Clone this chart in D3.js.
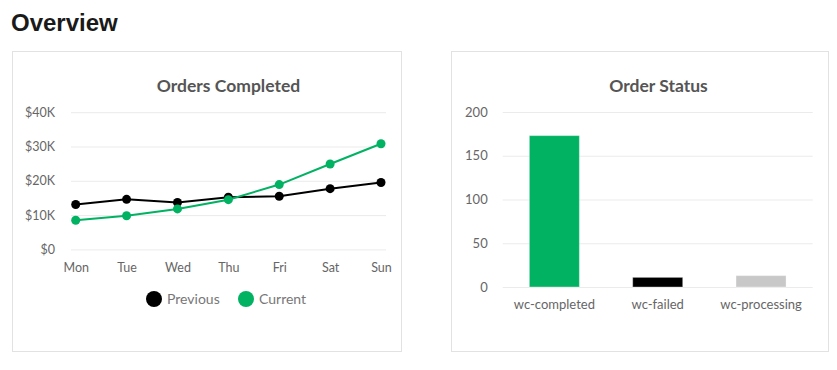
<!DOCTYPE html>
<html>
<head>
<meta charset="utf-8">
<script src="https://cdn.jsdelivr.net/npm/d3@7"></script>
<style>
  html, body { margin: 0; padding: 0; background: #fff; }
  body { width: 837px; height: 370px; overflow: hidden; }
  svg { display: block; }
</style>
</head>
<body>
<svg id="chart" width="837" height="370"></svg>
<script>
// ---- Data ----
const days = ["Mon", "Tue", "Wed", "Thu", "Fri", "Sat", "Sun"];
const previousValues = [13100, 14600, 13700, 15200, 15500, 17700, 19500];
const currentValues = [8500, 9800, 11800, 14500, 18900, 24900, 30800];
const lineTicks = [0, 10000, 20000, 30000, 40000];
const lineTickLabels = ["$0", "$10K", "$20K", "$30K", "$40K"];

const statuses = ["wc-completed", "wc-failed", "wc-processing"];
const statusCounts = [173, 11, 13];
const barTicks = [0, 50, 100, 150, 200];

const green = "#00b262";
const statusColors = [green, "#000000", "#c8c8c8"];
const chartFont = "Lato, 'Open Sans', sans-serif";

const svg = d3.select("#chart");

// Heading
svg.append("text").attr("x", 11).attr("y", 31)
  .attr("font-family", "'Liberation Sans', Arial, sans-serif")
  .attr("font-weight", "bold").attr("font-size", 24).attr("fill", "#1a1a1a")
  .text("Overview");

// Panels
svg.append("rect").attr("x", 12.5).attr("y", 51.5).attr("width", 389).attr("height", 300)
  .attr("fill", "#fff").attr("stroke", "#e2e2e2");
svg.append("rect").attr("x", 451.5).attr("y", 51.5).attr("width", 377).attr("height", 300)
  .attr("fill", "#fff").attr("stroke", "#e2e2e2");

// ---- Line chart ----
const lg = svg.append("g");
lg.append("text").attr("x", 228.5).attr("y", 92).attr("text-anchor", "middle")
  .attr("font-family", chartFont).attr("font-weight", "bold").attr("font-size", 17.5)
  .attr("fill", "#555").text("Orders Completed");

const x1 = d3.scalePoint().domain(days).range([75.7, 381]);
const y1 = d3.scaleLinear().domain([0, 40000]).range([249.4, 112.2]);

const yAxis1 = lg.append("g").attr("transform", "translate(71,0)")
  .call(d3.axisLeft(y1).tickValues(lineTicks).tickSize(-315)
    .tickFormat((d, i) => lineTickLabels[i]).tickPadding(16));
yAxis1.select(".domain").remove();
yAxis1.selectAll("line").attr("stroke", "#ebebeb");
yAxis1.selectAll("text").attr("font-family", chartFont).attr("font-size", 12.5).attr("fill", "#666");

const xAxis1 = lg.append("g").attr("transform", "translate(0,249.4)")
  .call(d3.axisBottom(x1).tickSize(0).tickPadding(14));
xAxis1.select(".domain").remove();
xAxis1.selectAll("text").attr("font-family", chartFont).attr("font-size", 12.5).attr("fill", "#666");

const line = d3.line().x((d, i) => x1(days[i])).y(d => y1(d));
const series = [
  { name: "Previous", values: previousValues, color: "#000" },
  { name: "Current", values: currentValues, color: green }
];
series.forEach(s => {
  lg.append("path").datum(s.values).attr("d", line)
    .attr("fill", "none").attr("stroke", s.color).attr("stroke-width", 2);
  lg.selectAll(null).data(s.values).enter().append("circle")
    .attr("cx", (d, i) => x1(days[i])).attr("cy", d => y1(d)).attr("r", 4.5)
    .attr("fill", s.color);
});

// Legend
const legendX = [154, 246];
series.forEach((s, i) => {
  lg.append("circle").attr("cx", legendX[i]).attr("cy", 299).attr("r", 8).attr("fill", s.color);
  lg.append("text").attr("x", legendX[i] + 13).attr("y", 304)
    .attr("font-family", chartFont).attr("font-size", 14).attr("fill", "#777").text(s.name);
});

// ---- Bar chart ----
const bg = svg.append("g");
bg.append("text").attr("x", 658.5).attr("y", 92).attr("text-anchor", "middle")
  .attr("font-family", chartFont).attr("font-weight", "bold").attr("font-size", 17.5)
  .attr("fill", "#555").text("Order Status");

const x2 = d3.scaleBand().domain(statuses).range([502.7, 812.7]).paddingInner(0.516).paddingOuter(0.258);
const y2 = d3.scaleLinear().domain([0, 200]).range([287, 112]);

const yAxis2 = bg.append("g").attr("transform", "translate(502.7,0)")
  .call(d3.axisLeft(y2).tickValues(barTicks).tickSize(-310).tickPadding(15));
yAxis2.select(".domain").remove();
yAxis2.selectAll("line").attr("stroke", "#ebebeb");
yAxis2.selectAll("text").attr("font-family", chartFont).attr("font-size", 13).attr("fill", "#666");

bg.selectAll(null).data(statuses).enter().append("rect")
  .attr("x", d => x2(d)).attr("width", x2.bandwidth())
  .attr("y", (d, i) => y2(statusCounts[i]))
  .attr("height", (d, i) => y2(0) - y2(statusCounts[i]))
  .attr("fill", (d, i) => statusColors[i])
  .attr("stroke", "rgba(255,255,255,0.35)").attr("stroke-width", 1);

const xAxis2 = bg.append("g").attr("transform", "translate(0,287)")
  .call(d3.axisBottom(x2).tickSize(0).tickPadding(13));
xAxis2.select(".domain").remove();
xAxis2.selectAll("text").attr("font-family", chartFont).attr("font-size", 13).attr("fill", "#666");
</script>
</body>
</html>
